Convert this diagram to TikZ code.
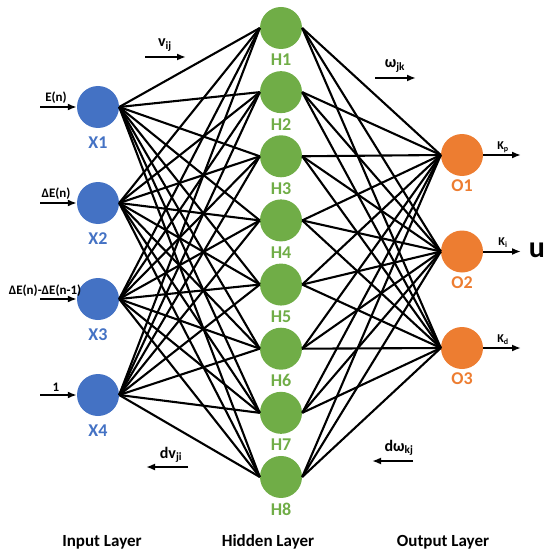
\documentclass[tikz,border=0pt]{standalone}
\usepackage{fontspec}
\setmainfont{Carlito}
\usepackage{tikz}
\usetikzlibrary{arrows.meta,positioning,calc}
\definecolor{inblue}{HTML}{4472C4}
\definecolor{hidgreen}{HTML}{70AD47}
\definecolor{outorange}{HTML}{ED7D31}

\begin{document}
\begin{tikzpicture}[x=1pt,y=-1pt,
  xnode/.style={circle,fill=inblue,minimum size=42pt,inner sep=0pt},
  hnode/.style={circle,fill=hidgreen,minimum size=42pt,inner sep=0pt},
  onode/.style={circle,fill=outorange,minimum size=42pt,inner sep=0pt},
  nlab/.style={font=\fontsize{18}{18}\selectfont\bfseries,inner sep=0pt},
  sig/.style={font=\fontsize{13}{13}\selectfont\bfseries,inner sep=0pt},
  gain/.style={font=\fontsize{12}{12}\selectfont\bfseries,inner sep=0pt},
  wlab/.style={font=\fontsize{16}{16}\selectfont\bfseries,inner sep=0pt},
  layer/.style={font=\fontsize{17}{17}\selectfont\bfseries,inner sep=0pt},
  link/.style={line width=2.1pt},
  arr/.style={-{Latex[length=9pt,width=7pt]},line width=2pt}]
\useasboundingbox (0,0) rectangle (550,556);
%%
%% Nodes
\foreach \i in {1,...,4}{
  \node[xnode] (X\i) at (98,{107+96*(\i-1)}) {};
  \node[nlab,text=inblue] (X\i lab) at (98,{143+96*(\i-1)}) {X\i};
}
\foreach \j in {1,...,8}{
  \node[hnode] (H\j) at (281,{28+64.14*(\j-1)}) {};
  \node[nlab,text=hidgreen] (H\j lab) at (281,{60+64.14*(\j-1)}) {H\j};
}
\foreach \k in {1,2,3}{
  \node[onode] (O\k) at (462,{155+96.5*(\k-1)}) {};
  \node[nlab,text=outorange] (O\k lab) at (462,{186+96.5*(\k-1)}) {O\k};
}
%%
%% Full connections
\foreach \i in {1,...,4}
  \foreach \j in {1,...,8}
    \draw[link] (X\i.east) -- (H\j.west);
\foreach \j in {1,...,8}
  \foreach \k in {1,2,3}
    \draw[link] (H\j.east) -- (O\k.west);
%%
%% Input signals
\foreach \i in {1,...,4}{
  \coordinate (in\i) at (40,{107+96*(\i-1)});
  \draw[arr] (in\i) -- (X\i.west);
}
\node[sig] (e1) at (56,98) {E(n)};
\node[sig] (e2) at (56,194) {ΔE(n)};
\node[sig] (e3) at (45,291) {ΔE(n)-ΔE(n-1)};
\node[sig] (e4) at (56,387) {1};
%%
%% Output gains
\foreach \k in {1,2,3}{
  \coordinate (out\k) at (521,{155+96.5*(\k-1)});
  \draw[arr] (O\k.east) -- (out\k);
}
\node[gain] (kp) at (503,147) {K\textsubscript{p}};
\node[gain] (ki) at (503,243) {K\textsubscript{i}};
\node[gain] (kd) at (503,340) {K\textsubscript{d}};
\node[font=\fontsize{30}{30}\selectfont\bfseries,inner sep=0pt] (u) at (537,250) {u};
%%
%% Weight directions
\coordinate (v0) at (145,57);  \coordinate (v1) at (186,57);
\draw[arr] (v0) -- (v1);
\node[wlab] (vij) at (165,45) {v\textsubscript{ij}};
\coordinate (w0) at (375,78);  \coordinate (w1) at (416,78);
\draw[arr] (w0) -- (w1);
\node[wlab] (wjk) at (395,66) {ω\textsubscript{jk}};
\coordinate (dv0) at (188,467); \coordinate (dv1) at (146,467);
\draw[arr] (dv0) -- (dv1);
\node[wlab] (dvji) at (171,455) {dv\textsubscript{ji}};
\coordinate (dw0) at (413,461); \coordinate (dw1) at (372,461);
\draw[arr] (dw0) -- (dw1);
\node[wlab] (dwkj) at (399,448) {dω\textsubscript{kj}};
%%
%% Layer names
\node[layer] (inlayer)  at (102,542) {Input Layer};
\node[layer] (hidlayer) at (268,542) {Hidden Layer};
\node[layer] (outlayer) at (443,542) {Output Layer};
\end{tikzpicture}
\end{document}
